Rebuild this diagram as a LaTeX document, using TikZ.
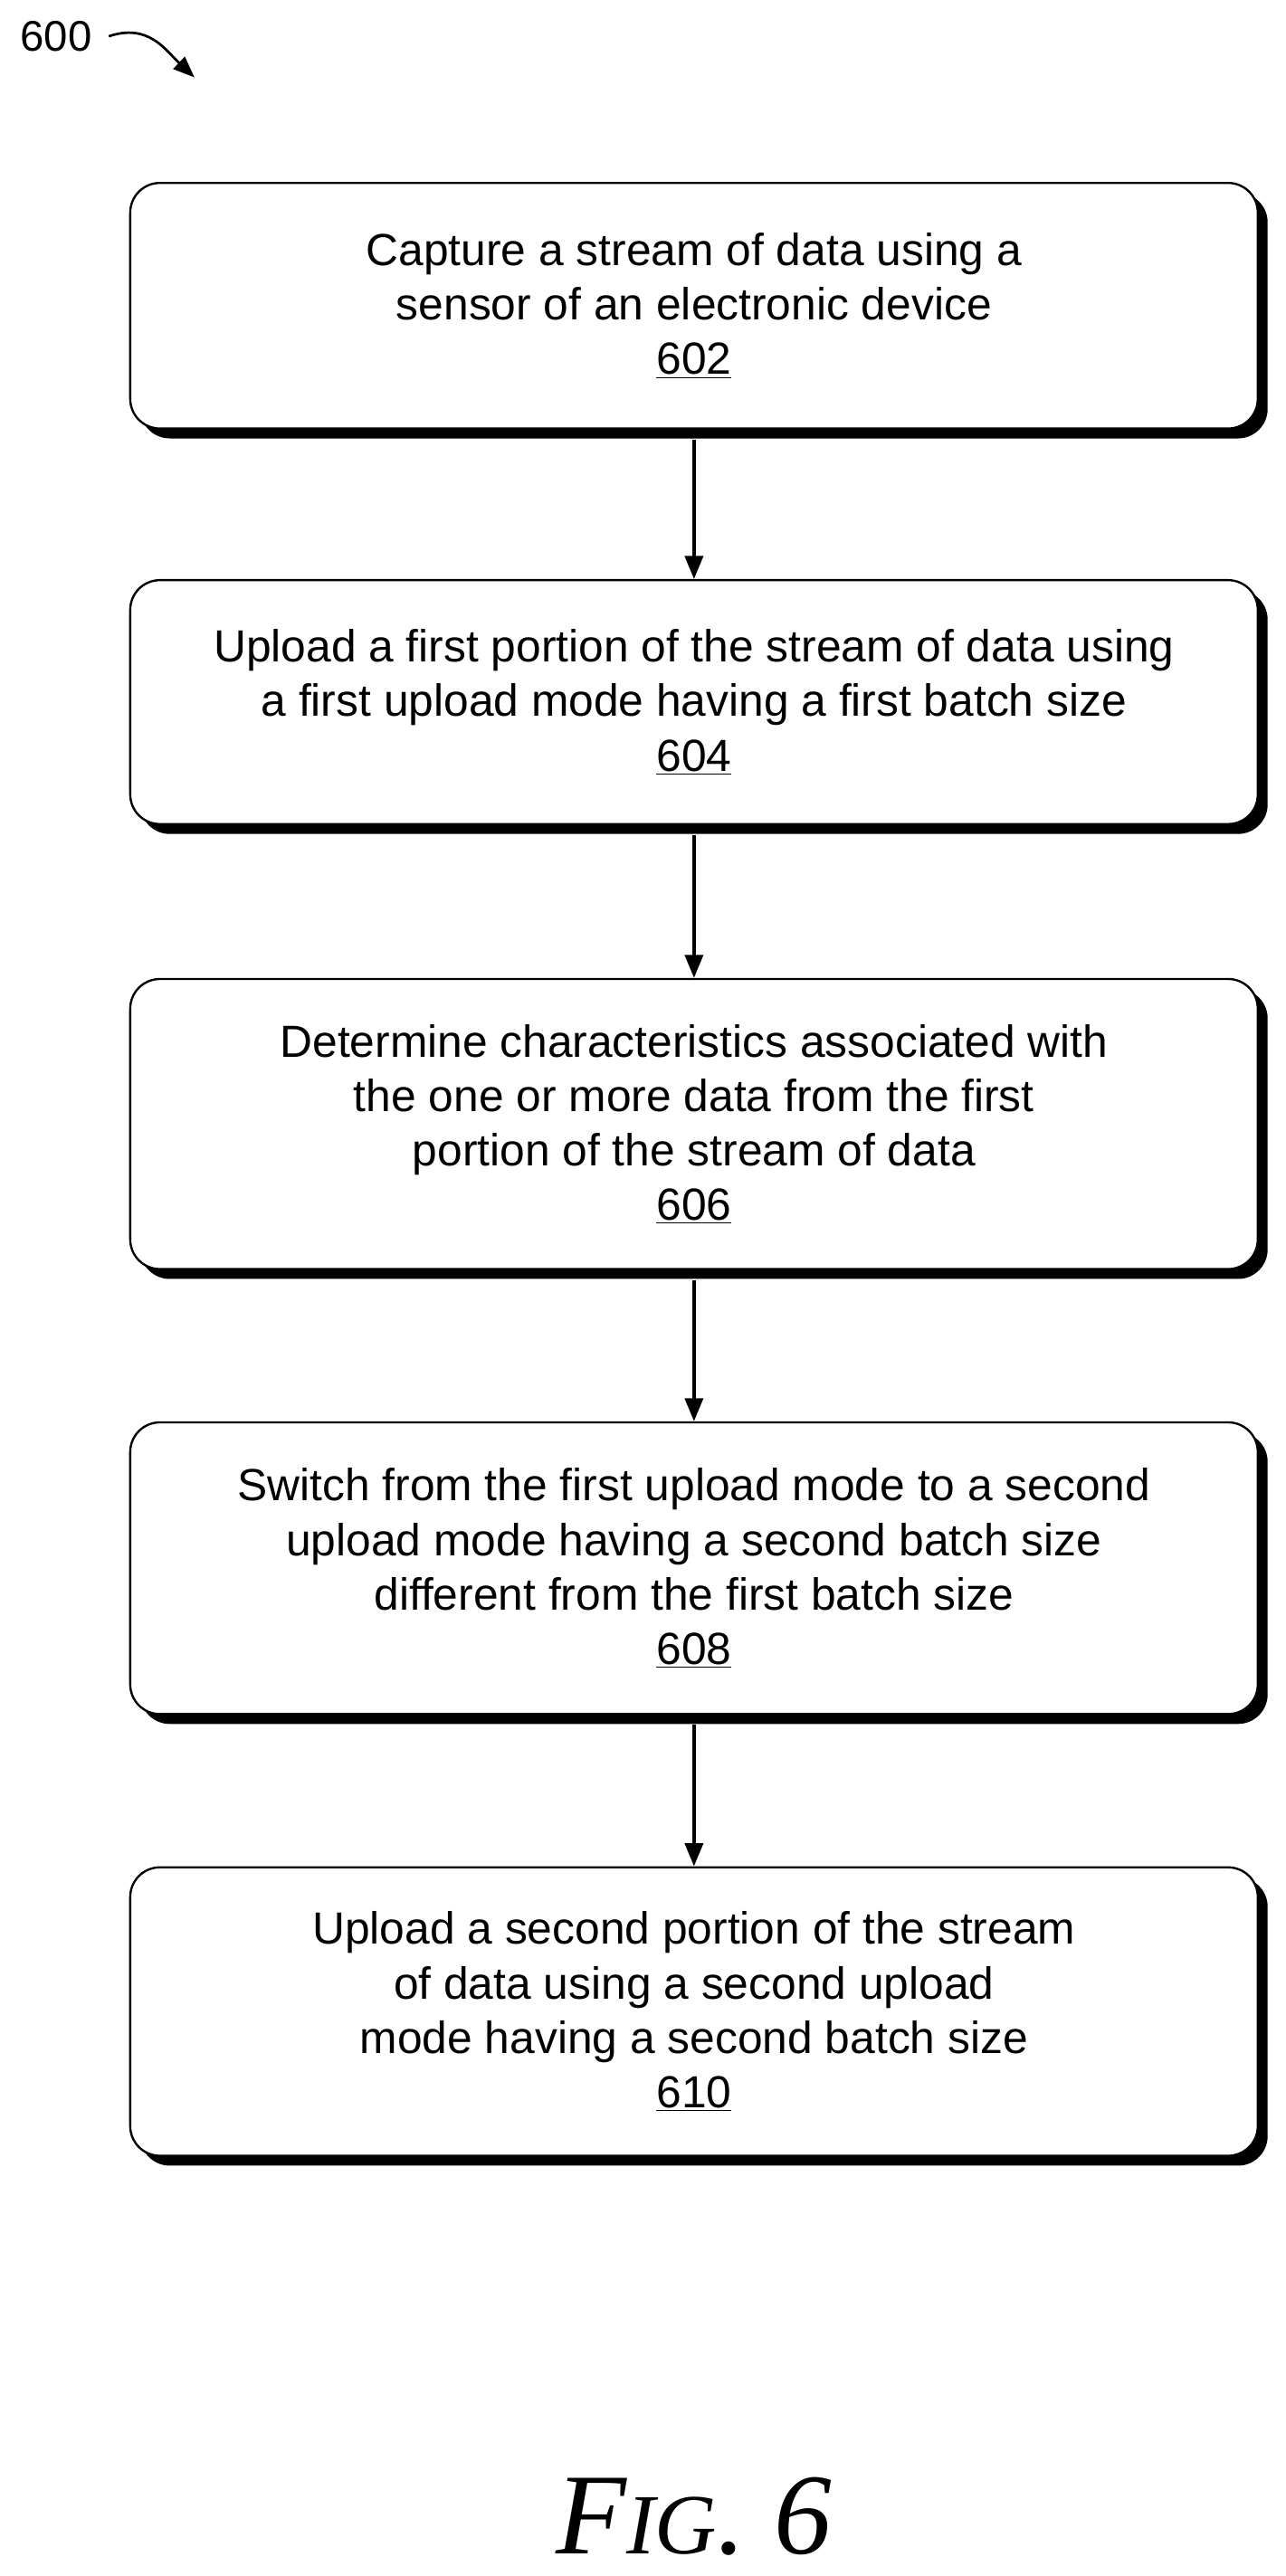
\documentclass[tikz,border=0pt]{standalone}
\usepackage{fontspec}
\setmainfont{Liberation Sans}
\newfontfamily\figfont{Liberation Serif}
\usetikzlibrary{arrows.meta}
\begin{document}
\begin{tikzpicture}[x=1pt,y=-1pt,
  box/.style={draw,line width=1.3pt,rounded corners=18pt,minimum width=684pt,align=center,fill=white,font=\fontsize{27.3}{33}\selectfont},
  arr/.style={line width=2pt,-{Triangle[length=14pt,width=11pt]}}]
\useasboundingbox (0,0) rectangle (780,1563);
\newcommand\mkbox[4]{%
  \fill[black,rounded corners=18pt] (85,#2+6) rectangle (769,#3+6);
  \node[box,minimum height=#3-#2] (#1) at (421,{(#2+#3)/2}) {#4};}
\mkbox{b1}{111}{260}{Capture a stream of data using a\\sensor of an electronic device\\\underline{602}}
\mkbox{b2}{352}{500}{Upload a first portion of the stream of data using\\a first upload mode having a first batch size\\\underline{604}}
\mkbox{b3}{594}{770}{Determine characteristics associated with\\the one or more data from the first\\portion of the stream of data\\\underline{606}}
\mkbox{b4}{863}{1040}{Switch from the first upload mode to a second\\upload mode having a second batch size\\different from the first batch size\\\underline{608}}
\mkbox{b5}{1133}{1308}{Upload a second portion of the stream\\of data using a second upload\\mode having a second batch size\\\underline{610}}
\draw[arr] (b1.south) ++(0,6) -- (b2.north);
\draw[arr] (b2.south) ++(0,6) -- (b3.north);
\draw[arr] (b3.south) ++(0,6) -- (b4.north);
\draw[arr] (b4.south) ++(0,6) -- (b5.north);
\node[font=\fontsize{26}{30}\selectfont] (lbl) at (34,22) {600};
\coordinate (tip) at (118,47);
\draw[line width=1.5pt,-{Triangle[length=13pt,width=10pt]}] (66,22) .. controls (90,14) and (100,30) .. (tip);
\node[font=\figfont\itshape\fontsize{70}{76}\selectfont] (fig) at (421,1527) {F{\fontsize{52}{56}\selectfont IG}. 6};
\end{tikzpicture}
\end{document}
